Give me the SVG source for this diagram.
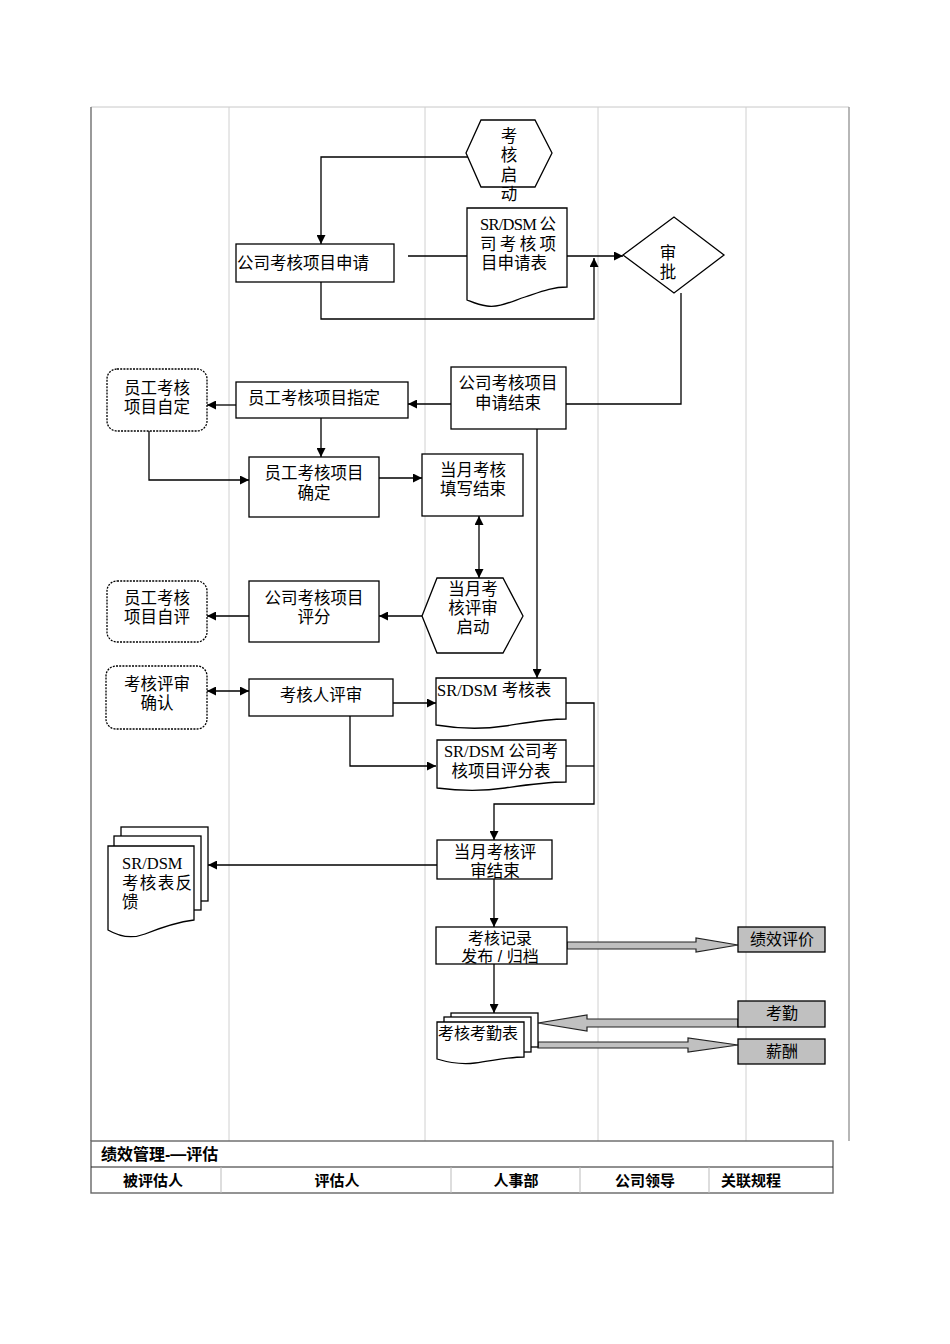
<svg xmlns="http://www.w3.org/2000/svg" width="950" height="1344" viewBox="0 0 950 1344">
<style>
.lane{stroke:#d0d0d0;stroke-width:1;fill:none}
.bx{fill:#fff;stroke:#000;stroke-width:1.3}
.rb{fill:#fff;stroke:#000;stroke-width:1.3;stroke-dasharray:2 1.2}
.gb{fill:#c0c0c0;stroke:#000;stroke-width:1.3}
.ln{fill:none;stroke:#000;stroke-width:1.3}
.ba{fill:#c0c0c0;stroke:#222;stroke-width:1.2}
text{font-family:"Liberation Serif","Noto Sans CJK SC",serif;font-size:16.5px;fill:#000}
.c{text-anchor:middle}
.s{font-family:"Liberation Sans","Noto Sans CJK SC",sans-serif;font-size:16px}
.t{font-family:"Liberation Sans","Noto Sans CJK SC",sans-serif;font-size:15px;font-weight:bold}
</style>
<defs>
<marker id="ar" viewBox="0 0 10 10" refX="10" refY="5" markerWidth="9" markerHeight="9" markerUnits="userSpaceOnUse" orient="auto-start-reverse">
<path d="M0,0 L10,5 L0,10 Z" fill="#000"/>
</marker>
</defs>
<rect width="950" height="1344" fill="#fff"/>
<g id="lanes">
<line x1="91" y1="107" x2="849" y2="107" stroke="#c8c8c8" stroke-width="1"/>
<line x1="91" y1="107" x2="91" y2="1141" stroke="#808080" stroke-width="1.6"/>
<line x1="849" y1="107" x2="849" y2="1141" stroke="#999" stroke-width="1.4"/>
<line class="lane" x1="229" y1="107" x2="229" y2="1141"/>
<line class="lane" x1="425" y1="107" x2="425" y2="1141"/>
<line class="lane" x1="598" y1="107" x2="598" y2="1141"/>
<line class="lane" x1="746" y1="107" x2="746" y2="1141"/>
</g>
<g id="table">
<rect x="91" y="1141" width="742" height="52" fill="#fff" stroke="#666" stroke-width="1.4"/>
<line x1="91" y1="1167" x2="833" y2="1167" stroke="#222" stroke-width="1.2"/>
<line x1="221" y1="1167" x2="221" y2="1193" stroke="#bbb"/>
<line x1="451" y1="1167" x2="451" y2="1193" stroke="#bbb"/>
<line x1="580" y1="1167" x2="580" y2="1193" stroke="#bbb"/>
<line x1="709" y1="1167" x2="709" y2="1193" stroke="#bbb"/>
<text class="t" x="101" y="1160" font-size="16" style="font-size:16px">绩效管理-—评估</text>
<text class="t c" x="153" y="1186">被评估人</text>
<text class="t c" x="337" y="1186">评估人</text>
<text class="t c" x="516" y="1186">人事部</text>
<text class="t c" x="645" y="1186">公司领导</text>
<text class="t c" x="751" y="1186">关联规程</text>
</g>
<g id="connectors">
<polyline class="ln" points="468,157 321,157 321,244" marker-end="url(#ar)"/>
<line class="ln" x1="408" y1="256" x2="467" y2="256"/>
<line class="ln" x1="567" y1="256" x2="623" y2="256" marker-end="url(#ar)"/>
<polyline class="ln" points="321,282 321,319 594,319 594,258" marker-end="url(#ar)"/>
<polyline class="ln" points="681,293 681,404 566,404"/>
<line class="ln" x1="451" y1="404" x2="408" y2="404" marker-end="url(#ar)"/>
<line class="ln" x1="236" y1="405" x2="207" y2="405" marker-end="url(#ar)"/>
<line class="ln" x1="321" y1="418" x2="321" y2="457" marker-end="url(#ar)"/>
<polyline class="ln" points="149,431 149,480 249,480" marker-end="url(#ar)"/>
<line class="ln" x1="379" y1="478" x2="422" y2="478" marker-end="url(#ar)"/>
<line class="ln" x1="479" y1="516" x2="479" y2="578" marker-start="url(#ar)" marker-end="url(#ar)"/>
<line class="ln" x1="422" y1="616" x2="379" y2="616" marker-end="url(#ar)"/>
<line class="ln" x1="249" y1="616" x2="207" y2="616" marker-end="url(#ar)"/>
<line class="ln" x1="537" y1="429" x2="537" y2="678" marker-end="url(#ar)"/>
<line class="ln" x1="207" y1="691" x2="249" y2="691" marker-start="url(#ar)" marker-end="url(#ar)"/>
<line class="ln" x1="393" y1="703" x2="436" y2="703" marker-end="url(#ar)"/>
<polyline class="ln" points="350,716 350,766 436,766" marker-end="url(#ar)"/>
<polyline class="ln" points="566,703 594,703 594,804 494,804 494,840" marker-end="url(#ar)"/>
<line class="ln" x1="566" y1="766" x2="594" y2="766"/>
<line class="ln" x1="437" y1="865" x2="208" y2="865" marker-end="url(#ar)"/>
<line class="ln" x1="494" y1="879" x2="494" y2="927" marker-end="url(#ar)"/>
<line class="ln" x1="494" y1="964" x2="494" y2="1013" marker-end="url(#ar)"/>
<polygon class="ba" points="567,942 696,942 696,938 738,945 696,952 696,949 567,949"/>
<polygon class="ba" points="738,1019 587,1019 587,1015 538,1023 587,1031 587,1027 738,1027"/>
<polygon class="ba" points="538,1042 688,1042 688,1038 738,1045 688,1052 688,1048 538,1048"/>
</g>
<g id="n-start">
<polygon class="bx" points="466,153 481,120 535,120 552,153 535,187 481,187"/>
<text class="c" x="509" y="142" font-size="16">考</text>
<text class="c" x="509" y="161" font-size="16">核</text>
<text class="c" x="509" y="181" font-size="16">启</text>
<text class="c" x="509" y="200" font-size="16">动</text>
</g>
<g id="n-apply-form">
<path class="bx" d="M467,208 H567 V287 C552,287 540,292 525,297 C510,302 498,308 487,306 C478,305 472,302 467,300 Z"/>
<text x="480" y="230" font-size="15" textLength="76" lengthAdjust="spacing">SR/DSM 公</text>
<text x="480" y="250" font-size="15" textLength="76" lengthAdjust="spacing">司考核项</text>
<text x="481" y="269" font-size="15">目申请表</text>
</g>
<g id="n-apply">
<rect class="bx" x="236" y="244" width="158" height="38"/>
<text x="237" y="269">公司考核项目申请</text>
</g>
<g id="n-approve">
<polygon class="bx" points="623,255 674,217 724,255 674,293"/>
<text class="c" x="668" y="259" font-size="16">审</text>
<text class="c" x="668" y="278" font-size="16">批</text>
</g>
<g id="n-apply-end">
<rect class="bx" x="451" y="367" width="115" height="62"/>
<text class="c" x="508" y="389">公司考核项目</text>
<text class="c" x="508" y="409">申请结束</text>
</g>
<g id="n-assign">
<rect class="bx" x="236" y="382" width="172" height="36"/>
<text class="c" x="314" y="404">员工考核项目指定</text>
</g>
<g id="n-self-define">
<rect class="rb" x="107" y="369" width="100" height="62" rx="10"/>
<text class="c" x="157" y="394">员工考核</text>
<text class="c" x="157" y="413">项目自定</text>
</g>
<g id="n-confirm">
<rect class="bx" x="249" y="457" width="130" height="60"/>
<text class="c" x="314" y="479">员工考核项目</text>
<text class="c" x="314" y="499">确定</text>
</g>
<g id="n-fill-end">
<rect class="bx" x="422" y="454" width="101" height="62"/>
<text class="c" x="473" y="476">当月考核</text>
<text class="c" x="473" y="495">填写结束</text>
</g>
<g id="n-review-start">
<polygon class="bx" points="422,616 437,578 503,578 523,616 503,653 437,653"/>
<text class="c" x="473" y="595">当月考</text>
<text class="c" x="473" y="614">核评审</text>
<text class="c" x="473" y="633">启动</text>
</g>
<g id="n-score">
<rect class="bx" x="249" y="581" width="130" height="61"/>
<text class="c" x="314" y="604">公司考核项目</text>
<text class="c" x="314" y="623">评分</text>
</g>
<g id="n-self-eval">
<rect class="rb" x="107" y="581" width="100" height="61" rx="10"/>
<text class="c" x="157" y="604">员工考核</text>
<text class="c" x="157" y="623">项目自评</text>
</g>
<g id="n-review-confirm">
<rect class="rb" x="106" y="666" width="101" height="63" rx="10"/>
<text class="c" x="157" y="690">考核评审</text>
<text class="c" x="157" y="709">确认</text>
</g>
<g id="n-reviewer">
<rect class="bx" x="249" y="679" width="144" height="37"/>
<text class="c" x="321" y="701">考核人评审</text>
</g>
<g id="n-sheet">
<path class="bx" d="M436,678 H566 V719 C545,719 525,723 505,726 C485,729 460,729 436,725 Z"/>
<text x="437" y="696">SR/DSM 考核表</text>
</g>
<g id="n-score-sheet">
<path class="bx" d="M437,740 H566 V782 C545,782 525,785 505,788 C485,791 460,791 437,788 Z"/>
<text class="c" x="501" y="757">SR/DSM 公司考</text>
<text class="c" x="501" y="777">核项目评分表</text>
</g>
<g id="n-review-end">
<rect class="bx" x="437" y="840" width="115" height="39"/>
<text class="c" x="495" y="858">当月考核评</text>
<text class="c" x="495" y="877">审结束</text>
</g>
<g id="n-feedback">
<rect class="bx" x="121" y="827" width="87" height="74"/>
<rect class="bx" x="114" y="836" width="87" height="74"/>
<path class="bx" d="M108,846 H194 V920 C178,922 160,928 145,934 C132,939 120,937 108,930 Z"/>
<text x="122" y="869">SR/DSM</text>
<text x="122" y="889" textLength="70" lengthAdjust="spacing">考核表反</text>
<text x="122" y="908">馈</text>
</g>
<g id="n-publish">
<rect class="bx" x="436" y="927" width="131" height="37"/>
<text class="c s" x="500" y="944">考核记录</text>
<text class="c s" x="500" y="962">发布 / 归档</text>
</g>
<g id="n-attendance-sheet">
<rect class="bx" x="451" y="1013" width="87" height="34"/>
<rect class="bx" x="444" y="1017" width="87" height="35"/>
<path class="bx" d="M437,1022 H524 V1057 C508,1057 492,1061 475,1063 C460,1065 447,1062 437,1059 Z"/>
<text class="s" x="438" y="1039">考核考勤表</text>
</g>
<g id="n-perf">
<rect class="gb" x="738" y="927" width="87" height="25"/>
<text class="c s" x="782" y="945">绩效评价</text>
</g>
<g id="n-attend">
<rect class="gb" x="738" y="1001" width="87" height="26"/>
<text class="c s" x="782" y="1019">考勤</text>
</g>
<g id="n-salary">
<rect class="gb" x="738" y="1039" width="87" height="25"/>
<text class="c s" x="782" y="1057">薪酬</text>
</g>
</svg>
